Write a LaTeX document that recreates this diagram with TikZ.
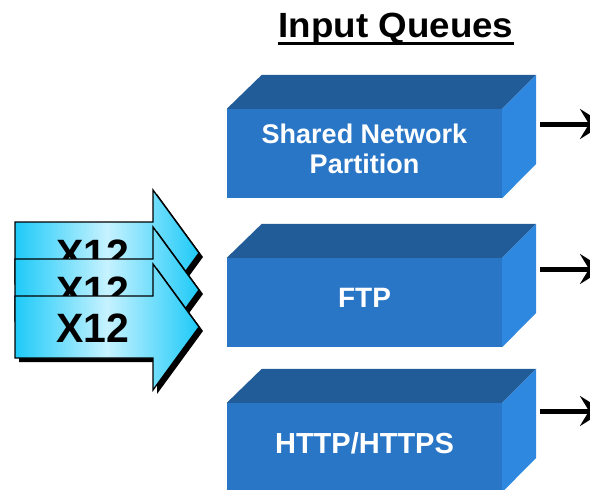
\documentclass[tikz,border=0pt]{standalone}
\usepackage{fontspec}
\setmainfont{Liberation Sans}
\usetikzlibrary{arrows.meta,calc}
\definecolor{frontc}{HTML}{2A76C6}
\definecolor{topc}{HTML}{215C98}
\definecolor{sidec}{HTML}{2E88E0}
\definecolor{cyanA}{HTML}{1ECAF8}
\definecolor{cyanL}{HTML}{C6F2FF}
\tikzset{
  front/.style={fill=frontc, draw=none, minimum width=275pt, minimum height=89pt, inner sep=0pt,
    text=white, font=\fontsize{27}{30}\selectfont\bfseries, align=center, text depth=10pt},
  topface/.style={fill=topc, draw=none},
  sideface/.style={fill=sidec, draw=none},
  outarrow/.style={line width=5pt, -{Stealth[length=24pt, width=30pt, inset=9pt]}},
  xarrow/.style={draw=black, line width=1.3pt, left color=cyanA, right color=cyanA, middle color=cyanL},
  xshadow/.style={fill=black, draw=none},
  xtext/.style={font=\fontsize{41}{48}\selectfont\bfseries, text=black, inner sep=0pt},
  title/.style={font=\fontsize{35}{40}\selectfont\bfseries, xscale=1.05, inner sep=0pt}
}
\begin{document}
\begin{tikzpicture}[x=1pt, y=-1pt]
\useasboundingbox (0,0) rectangle (590,490);
\clip (0,0) rectangle (590,490);

% title
\node[title, anchor=base] (ttl) at (396,37) {Input Queues};
\draw[line width=3pt] ([yshift=-6pt]ttl.base west) -- ([yshift=-6pt]ttl.base east);

% boxes
\foreach \n/\cy/\ay/\fs/\txt in {b1/153.5/124/27/{Shared Network\\Partition}, b2/302.5/269/28/{FTP}, b3/447.5/411/29/{HTTP/HTTPS}}{
  \node[front, font=\fontsize{\fs}{30}\selectfont\bfseries] (\n) at (364.5,\cy) {\txt};
  \fill[topface] (\n.north west) -- ++(35,-34) -- ($(\n.north east)+(34,-34)$) -- (\n.north east) -- cycle;
  \fill[sideface] (\n.north east) -- ++(34,-34) -- ++(0,89) -- (\n.south east) -- cycle;
  \coordinate (\n s) at (540,\ay);
  \coordinate (\n e) at (604,\ay);
  \draw[outarrow] (\n s) -- (\n e);
}

% X12 arrows
\foreach \n/\t in {a1/222, a2/259, a3/296}{
  \pgfmathsetmacro{\mybt}{\t+62}
  \pgfmathsetmacro{\mycy}{\t+31}
  \pgfmathsetmacro{\myht}{\t-32}
  \pgfmathsetmacro{\myhb}{\t+94}
  \fill[xshadow] (19,\t+4) -- (157,\t+4) -- (157,\myht+4) -- (203,\mycy+4) -- (157,\myhb+4) -- (157,\mybt+4) -- (19,\mybt+4) -- cycle;
  \draw[xarrow] (15,\t) -- (153,\t) -- (153,\myht) -- (199,\mycy) -- (153,\myhb) -- (153,\mybt) -- (15,\mybt) -- cycle;
  \node[xtext] (\n) at (93,\mycy+1) {X12};
}
\end{tikzpicture}
\end{document}
